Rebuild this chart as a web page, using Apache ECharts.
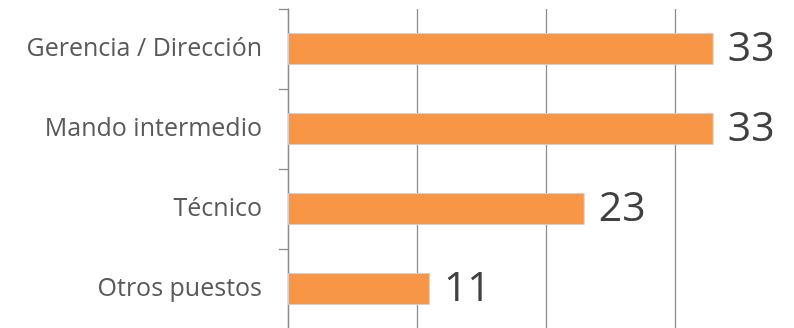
<!DOCTYPE html>
<html>
<head>
<meta charset="utf-8">
<script src="https://cdn.jsdelivr.net/npm/echarts@6/dist/echarts.min.js"></script>
<style>
    html, body { margin: 0; padding: 0; background: #fff; }
    #chart { width: 794px; height: 328px; }
</style>
</head>
<body>
<div id="chart"></div>
<script>
// categories, bottom to top as echarts draws a category y axis
var categories = ['Otros puestos', 'Técnico', 'Mando intermedio', 'Gerencia / Dirección'];
var values = [11, 23, 33, 33];

var myChart = echarts.init(document.getElementById('chart'));
var option = {
    animation: false,
    grid: {
        left: 288,
        top: 9,
        width: 516,   // 0..40, the 40 line falls just outside the picture
        height: 320,
        outerBoundsMode: 'none'
    },
    xAxis: {
        type: 'value',
        min: 0,
        max: 40,
        interval: 10,
        axisLine: { show: false },
        axisTick: { show: false },
        axisLabel: { show: false },
        splitLine: {
            show: true,
            lineStyle: { color: '#8c8c8c', width: 1.3 }
        }
    },
    yAxis: {
        type: 'category',
        data: categories,
        axisLine: {
            show: true,
            lineStyle: { color: '#8c8c8c', width: 1.3 }
        },
        axisTick: {
            show: true,
            length: 9,
            lineStyle: { color: '#8c8c8c', width: 1.3 }
        },
        axisLabel: {
            margin: 26,
            color: '#595959',
            fontFamily: 'Open Sans',
            fontSize: 25
        }
    },
    series: [{
        type: 'bar',
        data: values,
        barWidth: 32,
        itemStyle: {
            color: '#f79646',
            borderColor: '#d0d0d0',
            borderWidth: 1
        },
        label: {
            show: true,
            position: 'right',
            distance: 14,
            color: '#404040',
            fontFamily: 'Open Sans',
            fontSize: 41
        }
    }]
};
myChart.setOption(option);
</script>
</body>
</html>
